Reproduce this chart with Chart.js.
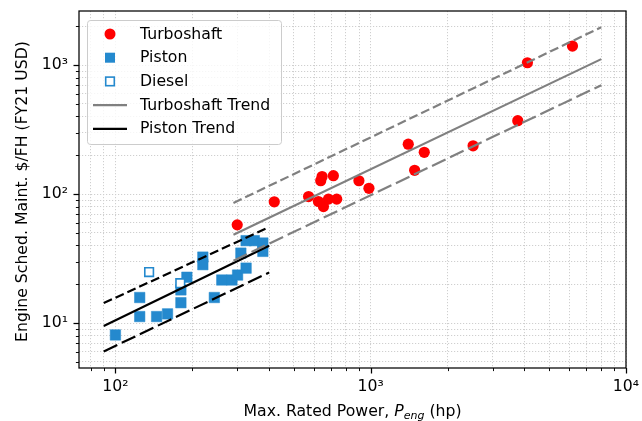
<!DOCTYPE html>
<html>
<head>
<meta charset="utf-8">
<script src="https://cdn.jsdelivr.net/npm/chart.js@4.4.1/dist/chart.umd.min.js"></script>
<style>
  html, body { margin: 0; padding: 0; background: #fff; }
  #wrap { width: 642px; height: 421px; position: relative; }
</style>
</head>
<body>
<div id="wrap"><canvas id="chart"></canvas></div>
<script>
// Engine data (power in hp, cost in $/FH)
const turboPower = [300, 419, 571, 624, 653, 683, 736, 637, 645, 714, 899, 984, 1403, 1621, 1486, 2518, 3767, 4110, 6170];
const turboCost  = [57.8, 87.2, 95.8, 87.7, 80.1, 91.5, 91.5, 127, 137, 139, 127, 111, 244, 211, 153, 237, 371, 1044, 1406];

const pistonPower = [100, 124.5, 124.5, 145, 160, 180.5, 180.5, 190.5, 220, 220, 244, 261, 286, 301, 310, 325, 325, 350, 378, 378];
const pistonCost  = [8.1, 15.8, 11.25, 11.25, 11.8, 14.4, 18.1, 22.7, 32.5, 28.4, 15.8, 21.6, 21.6, 23.6, 34.9, 26.7, 43.6, 43.6, 41.8, 36];

const dieselPower = [135.5, 179.5];
const dieselCost  = [24.9, 20.4];

// trend lines (end points) and their bands
const turboTrendPower = [290, 8000];
const turboTrend      = [48.4, 1114];
const turboUpper      = [85.5, 1970];
const turboLower      = [30.5, 700];

const pistonTrendPower = [90, 400];
const pistonTrend      = [9.5, 39.8];
const pistonUpper      = [14.3, 55.5];
const pistonLower      = [6.03, 24.7];

// axis ranges and decade ticks
const xRange = [72, 10000];
const yRange = [4.49, 2630];
const xDecades = [100, 1000, 10000];
const xDecadeLabels = ['10\u00b2', '10\u00b3', '10\u2074'];
const yDecades = [10, 100, 1000];
const yDecadeLabels = ['10\u00b9', '10\u00b2', '10\u00b3'];

const FONT = '"DejaVu Sans", "Liberation Sans", sans-serif';
const FS = 15.7;
const BLUE = 'rgb(36,137,206)';
const RED = 'rgb(255,0,0)';
const GRAY = '#808080';

function pts(xs, ys) {
  return xs.map((x, i) => ({ x: x, y: ys[i] }));
}

// all 1..9 x 10^n ticks inside a range
function logTicks(range) {
  const out = [];
  for (let e = -1; e <= 5; e++) {
    for (let m = 1; m <= 9; m++) {
      const v = m * Math.pow(10, e);
      if (v >= range[0] - 1e-9 && v <= range[1] + 1e-9) out.push({ value: v, major: m === 1 });
    }
  }
  return out;
}

function labelFor(v, decades, labels) {
  const i = decades.findIndex(d => Math.abs(d - v) / d < 1e-6);
  return i >= 0 ? labels[i] : '';
}

const CHART_LEFT = 79, CHART_RIGHT = 626, CHART_TOP = 11, CHART_BOTTOM = 368;

// frame, tick marks, axis titles and legend
const decor = {
  id: 'decor',
  afterDatasetsDraw(chart) {
    const { ctx, chartArea: a, scales: { x, y } } = chart;
    ctx.save();

    // tick marks
    ctx.strokeStyle = '#000';
    x.ticks.forEach(t => {
      const px = Math.round(x.getPixelForValue(t.value)) + 0.5;
      ctx.lineWidth = t.major ? 1.25 : 0.95;
      ctx.beginPath();
      ctx.moveTo(px, a.bottom);
      ctx.lineTo(px, a.bottom + (t.major ? 5.5 : 3.1));
      ctx.stroke();
    });
    y.ticks.forEach(t => {
      const py = Math.round(y.getPixelForValue(t.value)) + 0.5;
      ctx.lineWidth = t.major ? 1.25 : 0.95;
      ctx.beginPath();
      ctx.moveTo(a.left, py);
      ctx.lineTo(a.left - (t.major ? 5.5 : 3.1), py);
      ctx.stroke();
    });

    // frame
    ctx.lineWidth = 1.25;
    ctx.strokeStyle = '#000';
    ctx.strokeRect(a.left, a.top, a.right - a.left, a.bottom - a.top);

    // legend
    const L = { x: 87.5, y: 20.5, w: 194, h: 124 };
    ctx.beginPath();
    ctx.roundRect(L.x, L.y, L.w, L.h, 3);
    ctx.fillStyle = 'rgba(255,255,255,0.8)';
    ctx.fill();
    ctx.strokeStyle = '#cccccc';
    ctx.lineWidth = 1;
    ctx.stroke();

    const rows = ['Turboshaft', 'Piston', 'Diesel', 'Turboshaft Trend', 'Piston Trend'];
    const mx = 110;
    rows.forEach((name, i) => {
      const ry = 34 + i * 23.7;
      if (i === 0) {
        ctx.beginPath();
        ctx.arc(mx, ry, 5.5, 0, Math.PI * 2);
        ctx.fillStyle = RED;
        ctx.fill();
      } else if (i === 1) {
        ctx.fillStyle = BLUE;
        ctx.fillRect(mx - 5, ry - 5, 10, 10);
      } else if (i === 2) {
        ctx.fillStyle = '#fff';
        ctx.fillRect(mx - 4.3, ry - 4.3, 8.6, 8.6);
        ctx.strokeStyle = BLUE;
        ctx.lineWidth = 1.6;
        ctx.strokeRect(mx - 4.3, ry - 4.3, 8.6, 8.6);
      } else {
        ctx.strokeStyle = i === 3 ? GRAY : '#000';
        ctx.lineWidth = 2.2;
        ctx.beginPath();
        ctx.moveTo(93, ry);
        ctx.lineTo(127, ry);
        ctx.stroke();
      }
      ctx.fillStyle = '#000';
      ctx.font = FS + 'px ' + FONT;
      ctx.textAlign = 'left';
      ctx.textBaseline = 'middle';
      ctx.fillText(name, 140, ry + 0.5);
    });

    // x title with italic P_eng
    const parts = [
      { t: 'Max. Rated Power, ', f: FS + 'px ' + FONT, dy: 0 },
      { t: 'P', f: 'italic ' + FS + 'px ' + FONT, dy: 0 },
      { t: 'eng', f: 'italic ' + (FS * 0.7).toFixed(1) + 'px ' + FONT, dy: 3.5 },
      { t: ' (hp)', f: FS + 'px ' + FONT, dy: 0 }
    ];
    let total = 0;
    parts.forEach(p => { ctx.font = p.f; p.w = ctx.measureText(p.t).width; total += p.w; });
    let cx = (a.left + a.right) / 2 - total / 2;
    ctx.textAlign = 'left';
    ctx.textBaseline = 'alphabetic';
    ctx.fillStyle = '#000';
    parts.forEach(p => {
      ctx.font = p.f;
      ctx.fillText(p.t, cx, 415.5 + p.dy);
      cx += p.w;
    });

    // y title
    ctx.translate(26.5, (a.top + a.bottom) / 2 + 2);
    ctx.rotate(-Math.PI / 2);
    ctx.font = FS + 'px ' + FONT;
    ctx.textAlign = 'center';
    ctx.fillText('Engine Sched. Maint. $/FH (FY21 USD)', 0, 0);

    ctx.restore();
  }
};

function lineSet(xs, ys, color, dash) {
  return {
    type: 'scatter',
    data: pts(xs, ys),
    showLine: true,
    borderColor: color,
    borderWidth: 2.2,
    borderDash: dash,
    borderCapStyle: 'butt',
    pointRadius: 0,
    fill: false,
    order: 0
  };
}

const gridOpts = {
  color: '#cfcfcf',
  lineWidth: 1,
  drawTicks: false
};
const borderOpts = { display: false, dash: [1.2, 1.8] };

new Chart(document.getElementById('chart'), {
  type: 'scatter',
  data: {
    datasets: [
      {
        label: 'Turboshaft',
        data: pts(turboPower, turboCost),
        pointStyle: 'circle',
        pointRadius: 5.6,
        backgroundColor: RED,
        borderWidth: 0,
        order: 3
      },
      {
        label: 'Piston',
        data: pts(pistonPower, pistonCost),
        pointStyle: 'rect',
        pointRadius: 7.4,
        backgroundColor: BLUE,
        borderColor: 'rgba(36,137,206,0.5)',
        borderWidth: 1,
        order: 2
      },
      {
        label: 'Diesel',
        data: pts(dieselPower, dieselCost),
        pointStyle: 'rect',
        pointRadius: 6.1,
        backgroundColor: '#fff',
        borderColor: BLUE,
        borderWidth: 1.6,
        order: 1
      },
      lineSet(turboTrendPower, turboTrend, GRAY, []),
      lineSet(turboTrendPower, turboUpper, GRAY, [9, 4]),
      lineSet(turboTrendPower, turboLower, GRAY, [15, 5]),
      lineSet(pistonTrendPower, pistonTrend, '#000', []),
      lineSet(pistonTrendPower, pistonUpper, '#000', [9, 4]),
      lineSet(pistonTrendPower, pistonLower, '#000', [15, 5])
    ]
  },
  options: {
    responsive: true,
    maintainAspectRatio: false,
    devicePixelRatio: 1,
    animation: false,
    events: [],
    layout: {
      autoPadding: false,
      padding: { left: 0, right: 642 - CHART_RIGHT, top: CHART_TOP, bottom: 0 }
    },
    plugins: {
      legend: { display: false },
      tooltip: { enabled: false }
    },
    scales: {
      x: {
        type: 'logarithmic',
        bounds: 'data',
        min: xRange[0],
        max: xRange[1],
        afterBuildTicks: s => { s.ticks = logTicks(xRange); },
        afterFit: s => {
          s.height = 421 - CHART_BOTTOM;
          s.paddingLeft = 0; s.paddingRight = 0; s.paddingTop = 0; s.paddingBottom = 0;
        },
        grid: gridOpts,
        border: borderOpts,
        ticks: {
          autoSkip: false,
          maxRotation: 0,
          minRotation: 0,
          padding: 10,
          color: '#000',
          font: { family: FONT, size: FS },
          callback: v => labelFor(v, xDecades, xDecadeLabels)
        }
      },
      y: {
        type: 'logarithmic',
        bounds: 'data',
        min: yRange[0],
        max: yRange[1],
        afterBuildTicks: s => { s.ticks = logTicks(yRange); },
        afterFit: s => {
          s.width = CHART_LEFT;
          s.paddingLeft = 0; s.paddingRight = 0; s.paddingTop = 0; s.paddingBottom = 0;
        },
        grid: gridOpts,
        border: borderOpts,
        ticks: {
          autoSkip: false,
          padding: 11,
          color: '#000',
          font: { family: FONT, size: FS },
          callback: v => labelFor(v, yDecades, yDecadeLabels)
        }
      }
    }
  },
  plugins: [decor]
});
</script>
</body>
</html>
